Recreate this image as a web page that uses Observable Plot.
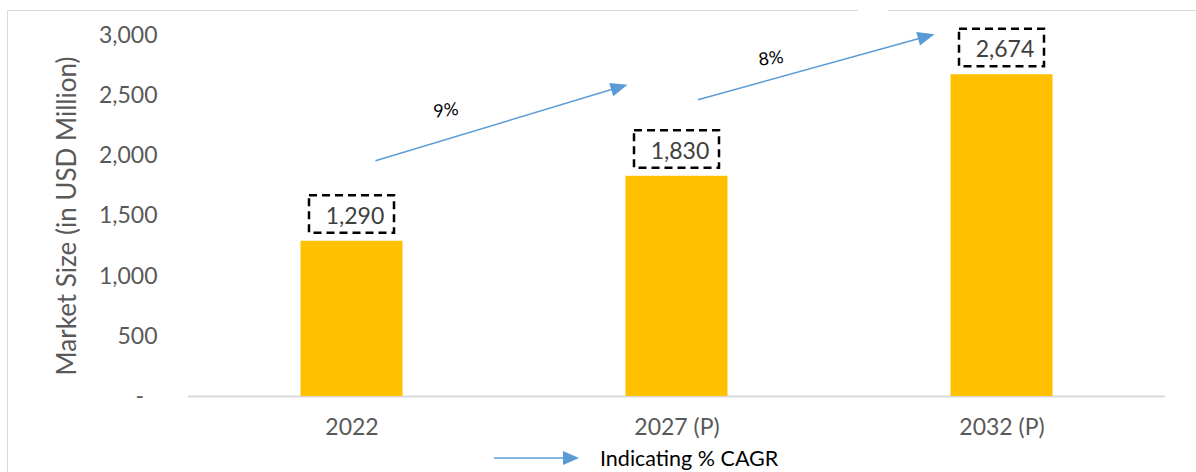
<!DOCTYPE html>
<html>
<head>
<meta charset="utf-8">
<script src="https://cdn.jsdelivr.net/npm/d3@7"></script>
<script src="https://cdn.jsdelivr.net/npm/@observablehq/plot@0.6"></script>
<style>
  html, body { margin: 0; padding: 0; background: #fff; }
  #wrap { position: relative; width: 1196px; height: 472px; overflow: hidden; font-family: Lato, sans-serif; }
  .bl { position: absolute; left: 7px; top: 10px; width: 1px; height: 462px; background: #d9d9d9; }
  .bt1 { position: absolute; left: 7px; top: 10px; width: 851px; height: 1px; background: #d9d9d9; }
  .bt2 { position: absolute; left: 888px; top: 10px; width: 308px; height: 1px; background: #d9d9d9; }
  #legend { position: absolute; left: 494px; top: 446px; height: 24px; display: flex; align-items: center; font-size: 21.5px; color: #000; }
  #legend span { margin-left: 20px; }
</style>
</head>
<body>
<div id="wrap">
  <div id="chart"></div>
  <div class="bl"></div><div class="bt1"></div><div class="bt2"></div>
  <div id="legend">
    <svg width="86" height="16"><line x1="0" y1="8" x2="72" y2="8" stroke="#5B9BD5" stroke-width="1.5"/><path d="M85,8L69,1L69,15Z" fill="#5B9BD5"/></svg>
    <span>Indicating % CAGR</span>
  </div>
</div>
<script>
// ---- data ----
const years = ["2022", "2027 (P)", "2032 (P)"];
const marketSize = [1290, 1830, 2674];
const yTicks = [0, 500, 1000, 1500, 2000, 2500, 3000];
const yTitle = "Market Size (in USD Million)";
const cagrFrom = ["2022", "2027 (P)"];
const cagrTo = ["2027 (P)", "2032 (P)"];
const cagrStartValue = [1955, 2462];
const cagrEndValue = [2587, 3006];
const cagrLabels = ["9%", "8%"];
const cagrLabelValue = [2377, 2809];

const table = years.map((y, i) => ({year: y, value: marketSize[i]}));
const cagr = cagrFrom.map((f, i) => ({from: f, to: cagrTo[i], v1: cagrStartValue[i], v2: cagrEndValue[i], label: cagrLabels[i], ly: cagrLabelValue[i]}));

// layout offsets (pixels) for arrow ends relative to band centres
const ARROW_START_OFF = [24, 21.5];
const ARROW_END_OFF = [-49, -67];

function cagrArrows(index, scales) {
  const x = scales.x, y = scales.y;
  const bw = x.bandwidth ? x.bandwidth() : 0;
  const g = d3.create("svg:g");
  cagr.forEach((d, i) => {
    const x1 = x(d.from) + bw / 2 + ARROW_START_OFF[i], y1 = y(d.v1);
    const x2 = x(d.to) + bw / 2 + ARROW_END_OFF[i], y2 = y(d.v2);
    const L = Math.hypot(x2 - x1, y2 - y1), ux = (x2 - x1) / L, uy = (y2 - y1) / L;
    const hl = 17, hw = 7;
    const bx = x2 - ux * hl, by = y2 - uy * hl;
    g.append("line").attr("x1", x1).attr("y1", y1).attr("x2", bx + ux * 2).attr("y2", by + uy * 2)
      .attr("stroke", "#5B9BD5").attr("stroke-width", 1.4);
    g.append("path")
      .attr("d", `M${x2},${y2}L${bx - uy * hw},${by + ux * hw}L${bx + uy * hw},${by - ux * hw}Z`)
      .attr("fill", "#5B9BD5");
  });
  return g.node();
}

const chart = Plot.plot({
  width: 1196,
  height: 440,
  marginLeft: 188,
  marginRight: 31,
  marginTop: 35,
  marginBottom: 44,
  style: {fontFamily: "Lato, sans-serif", fontSize: "23px", color: "#595959", background: "transparent"},
  x: {domain: years, padding: 0},
  y: {domain: [0, 3000]},
  marks: [
    Plot.axisY({ticks: yTicks, tickSize: 0, tickPadding: 31, label: null, fontSize: 23,
      tickFormat: d => d === 0 ? "-\u2007" : d3.format(",")(d)}),
    Plot.axisX({tickSize: 0, tickPadding: 22, label: null, fontSize: 23}),
    Plot.ruleY([0], {stroke: "#d9d9d9", strokeWidth: 2}),
    Plot.barY(table, {x: "year", y: "value", fill: "#FFC000", insetLeft: 111.5, insetRight: 111.5}),
    Plot.barY(table, {x: "year", y1: "value", y2: "value", fill: "none", stroke: "#000", strokeWidth: 2.5,
      strokeDasharray: "8,5", insetLeft: 120, insetRight: 120, insetTop: -45.5, insetBottom: 8}),
    Plot.text(table, {x: "year", y: "value", text: d => d3.format(",")(d.value), dy: -25, dx: 3, fill: "#404040", fontSize: 23}),
    Plot.text([yTitle], {text: d => d, frameAnchor: "left", textAnchor: "middle", dx: -121, rotate: -90, fill: "#595959", fontSize: 26}),
    cagrArrows,
    Plot.text(cagr, {x: "from", y: "ly", text: "label", dx: 94, rotate: -7, fill: "#000", fontSize: 18})
  ]
});
document.getElementById("chart").appendChild(chart);
</script>
</body>
</html>
